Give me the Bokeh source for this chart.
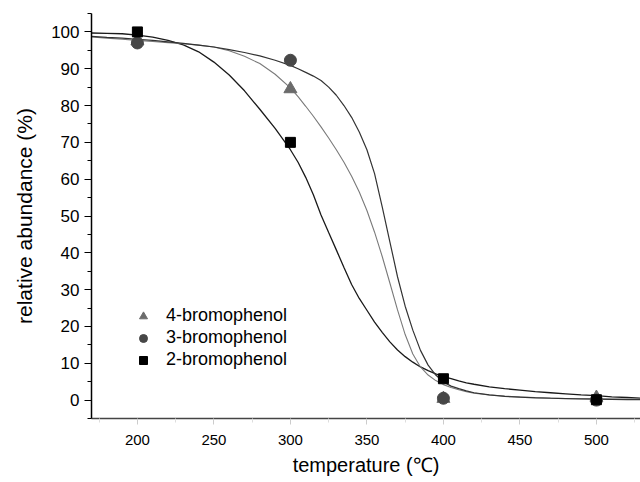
from bokeh.plotting import figure
from bokeh.models import Range1d, FixedTicker, Legend, LegendItem
from bokeh.embed import file_html
from bokeh.resources import INLINE

# measured points
temps = [200, 300, 400, 500]
bp4 = [97.5, 84.5, 0.4, 0.7]
bp3 = [97.0, 92.3, 0.5, 0.0]
bp2 = [100.0, 70.0, 5.8, 0.1]

# fitted curves
curve_x = [170, 180, 190, 200, 210, 220, 230, 240, 250, 260, 270, 280, 290,
           300, 305, 310, 315, 320, 325, 330, 335, 340, 345, 350, 355, 360,
           365, 370, 375, 380, 385, 390, 395, 400, 405, 410, 415, 420,
           430, 440, 450, 460, 470, 480, 490, 500, 510, 520, 530]
fit2 = [99.7, 99.6, 99.5, 99.1, 98.6, 97.7, 96.5, 94.6, 91.8, 88.3, 84.0, 79.0, 73.8,
        68.0, 64.6, 60.5, 55.8, 50.3, 45.5, 40.8, 36.0, 31.4, 27.6, 24.4, 21.2, 18.4,
        15.8, 13.6, 11.8, 10.3, 9.0, 8.0, 7.1, 6.4, 5.8, 5.2, 4.7, 4.3,
        3.6, 3.1, 2.7, 2.3, 2.0, 1.7, 1.4, 1.2, 0.9, 0.7, 0.5]
fit3 = [98.8, 98.5, 98.3, 98.0, 97.7, 97.3, 96.9, 96.4, 95.9, 95.2, 94.4, 93.5, 92.3,
        90.9, 90.0, 89.0, 88.0, 86.8, 85.0, 82.8, 80.0, 76.8, 72.8, 68.0, 61.5, 52.5,
        43.0, 33.5, 25.5, 19.0, 13.5, 9.5, 6.8, 4.9, 3.8, 3.1, 2.5, 2.0,
        1.4, 1.0, 0.8, 0.6, 0.5, 0.4, 0.3, 0.25, 0.2, 0.15, 0.1]
fit4 = [98.6, 98.3, 98.0, 97.7, 97.4, 97.1, 96.8, 96.4, 95.9, 94.9, 93.4, 91.4, 88.5,
        84.8, 82.4, 79.8, 77.1, 74.2, 71.2, 68.0, 64.6, 60.8, 56.5, 51.5, 45.6, 39.0,
        31.8, 24.5, 17.8, 12.5, 9.0, 6.8, 5.3, 4.2, 3.4, 2.8, 2.3, 1.9,
        1.4, 1.1, 0.85, 0.7, 0.55, 0.45, 0.4, 0.35, 0.3, 0.25, 0.2]

x_ticks = [200, 250, 300, 350, 400, 450, 500]
x_minor = [175, 225, 275, 325, 375, 425, 475, 525]
y_ticks = [0, 10, 20, 30, 40, 50, 60, 70, 80, 90, 100]
y_minor = [-5, 5, 15, 25, 35, 45, 55, 65, 75, 85, 95, 105]

FONT = "Liberation Sans"

p = figure(width=640, height=482, x_range=Range1d(170, 528.8), y_range=Range1d(-5, 105),
           output_backend="svg", toolbar_location=None,
           min_border_left=91, min_border_right=0, min_border_top=13, min_border_bottom=64)
p.outline_line_color = None
p.xgrid.visible = False
p.ygrid.visible = False
p.background_fill_color = "white"
p.border_fill_color = "white"

# curves
p.line(curve_x, fit2, line_color="#1a1a1a", line_width=1.3)
p.line(curve_x, fit4, line_color="#7a7a7a", line_width=1.1)
p.line(curve_x, fit3, line_color="#333333", line_width=1.2)

r4 = p.scatter(temps, bp4, marker="triangle", size=13, fill_color="#6b6b6b", line_color="#6b6b6b")
r3 = p.scatter(temps, bp3, marker="circle", size=12, fill_color="#474747", line_color="#474747")
r2 = p.scatter(temps, bp2, marker="square", size=10, fill_color="#000000", line_color="#000000")

# axes
xa = p.xaxis[0]
xa.ticker = FixedTicker(ticks=x_ticks, minor_ticks=x_minor)
xa.axis_line_color = "#444444"
xa.axis_line_width = 1.6
xa.major_tick_line_color = "#cccccc"
xa.minor_tick_line_color = "#dddddd"
xa.major_tick_out = 6
xa.major_tick_in = 0
xa.minor_tick_out = 4
xa.minor_tick_in = 0
xa.major_label_standoff = 10
xa.major_label_text_font = FONT
xa.major_label_text_font_size = "15px"
xa.major_label_text_color = "black"
xa.axis_label = "temperature (\u2103)"
xa.axis_label_text_font = FONT
xa.axis_label_text_font_size = "20px"
xa.axis_label_text_font_style = "normal"
xa.axis_label_text_color = "black"
xa.axis_label_standoff = 6

ya = p.yaxis[0]
ya.ticker = FixedTicker(ticks=y_ticks, minor_ticks=y_minor)
ya.axis_line_color = "black"
ya.axis_line_width = 1.5
ya.major_tick_line_color = "black"
ya.minor_tick_line_color = "black"
ya.major_tick_out = 7
ya.major_tick_in = 0
ya.minor_tick_out = 4
ya.minor_tick_in = 0
ya.major_label_standoff = 5
ya.major_label_text_font = FONT
ya.major_label_text_font_size = "17px"
ya.major_label_text_color = "black"
ya.axis_label = "relative abundance (%)"
ya.axis_label_text_font = FONT
ya.axis_label_text_font_size = "21px"
ya.axis_label_text_font_style = "normal"
ya.axis_label_text_color = "black"
ya.axis_label_standoff = 12

legend = Legend(items=[LegendItem(label="4-bromophenol", renderers=[r4]),
                       LegendItem(label="3-bromophenol", renderers=[r3]),
                       LegendItem(label="2-bromophenol", renderers=[r2])],
                location=(42, 48), orientation="vertical",
                label_text_font=FONT, label_text_font_size="18px", label_text_color="black",
                glyph_width=20, glyph_height=20, label_height=20, label_standoff=13,
                spacing=1, padding=0, margin=0,
                background_fill_alpha=0, border_line_alpha=0)
p.add_layout(legend)

open("out.html", "w").write(file_html(p, INLINE))
